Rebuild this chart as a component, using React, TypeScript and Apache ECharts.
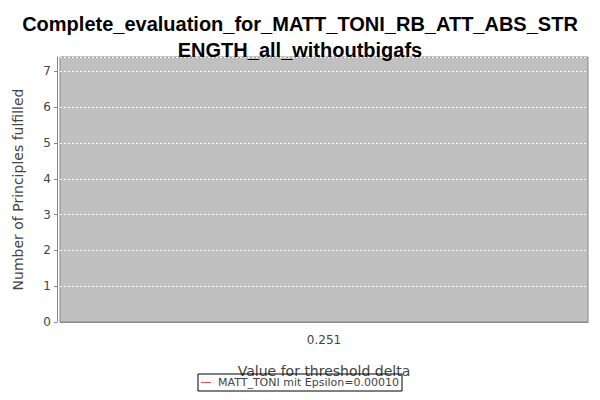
import { useEffect, useRef } from "react";
import * as echarts from "echarts";

const titleLines = ["Complete_evaluation_for_MATT_TONI_RB_ATT_ABS_STR", "ENGTH_all_withoutbigafs"];
const categories = ["0.251"];
const seriesName = "MATT_TONI mit Epsilon=0.00010";
const seriesValues: (number | null)[] = [null];

export default function App() {
  const ref = useRef<HTMLDivElement>(null);

  useEffect(() => {
    if (!ref.current) return;
    const chart = echarts.init(ref.current, null, { renderer: "svg" });
    chart.setOption({
      animation: false,
      backgroundColor: "#ffffff",
      title: {
        text: titleLines.join("\n"),
        left: "center",
        top: 6,
        textStyle: { fontFamily: "Liberation Sans", fontSize: 20, fontWeight: "bold", color: "#000", lineHeight: 26 },
      },
      legend: {
        data: [seriesName],
        top: 374,
        left: "center",
        icon: "path://M0,0H10V1H0Z",
        itemWidth: 14,
        itemHeight: 1,
        itemGap: 2,
        borderColor: "#000",
        borderWidth: 1,
        borderRadius: 0,
        padding: [3, 3, 3, 3],
        textStyle: { fontFamily: "DejaVu Sans", fontSize: 11, color: "#444" },
      },
      grid: { left: 60, right: 12, top: 57, bottom: 78, backgroundColor: "#c0c0c0", show: true, borderColor: "#888", borderWidth: 1 },
      xAxis: {
        type: "category",
        data: categories,
        offset: 4,
        name: "Value for threshold delta",
        nameLocation: "middle",
        nameGap: 38,
        nameTextStyle: { fontFamily: "DejaVu Sans", fontSize: 14, color: "#444" },
        axisLine: { lineStyle: { color: "#888" } },
        axisTick: { alignWithLabel: true, lineStyle: { color: "#888" } },
        axisLabel: { fontFamily: "DejaVu Sans", fontSize: 12, color: "#444", margin: 8 },
      },
      yAxis: {
        type: "value",
        min: 0,
        max: 7.4,
        interval: 1,
        offset: 3,
        name: "Number of Principles fulfilled",
        nameLocation: "middle",
        nameGap: 32,
        nameTextStyle: { fontFamily: "DejaVu Sans", fontSize: 14, color: "#444" },
        axisLine: { show: true, lineStyle: { color: "#888" } },
        axisTick: { show: true, length: 3, lineStyle: { color: "#888" } },
        axisLabel: { fontFamily: "DejaVu Sans", fontSize: 12, color: "#444", showMaxLabel: false, margin: 6 },
        splitLine: { lineStyle: { color: "#ffffff", type: [2, 2], width: 1 } },
      },
      series: [
        {
          name: seriesName,
          type: "line",
          data: seriesValues,
          color: "#e05050",
          symbol: "none",
        },
      ],
    });
    return () => chart.dispose();
  }, []);

  return <div ref={ref} style={{ width: 600, height: 400, margin: -8 }} />;
}
